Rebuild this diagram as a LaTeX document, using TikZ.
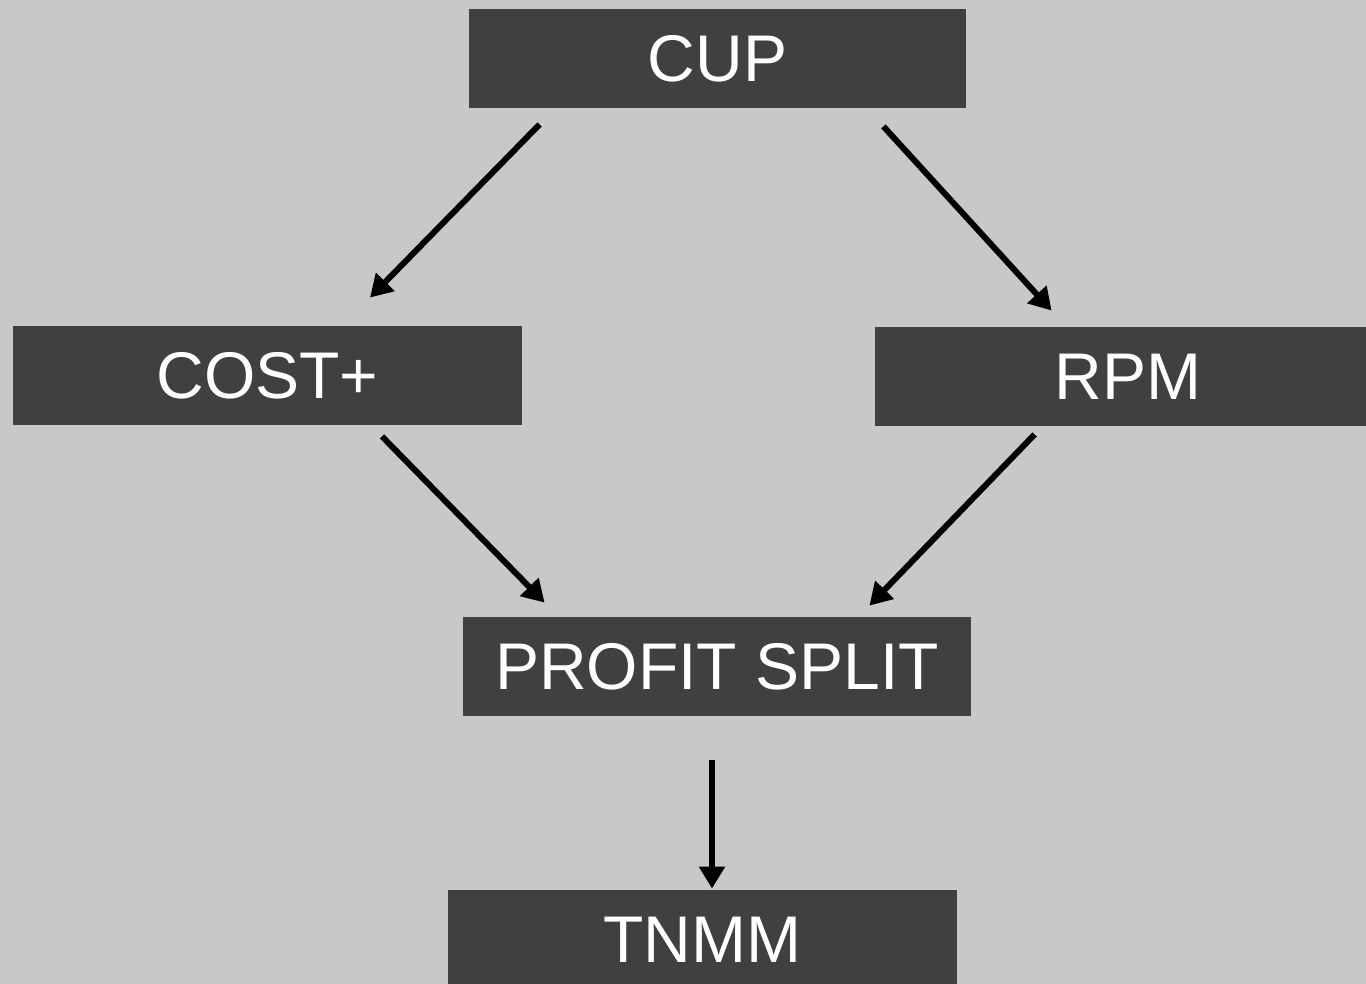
\documentclass[tikz,border=0pt]{standalone}
\usepackage{fontspec}
\setmainfont{Liberation Sans}
\usetikzlibrary{calc,arrows.meta}
\definecolor{bg}{HTML}{C8C8C8}
\definecolor{boxc}{HTML}{404040}
\begin{document}
\begin{tikzpicture}[x=0.5pt,y=-0.5pt,
  box/.style={fill=boxc,draw=none,text=white,minimum height=49.5pt,inner sep=0pt,
    font=\fontsize{33}{38}\selectfont},
  arr/.style={line width=3pt,-{Triangle[length=11pt,width=12.5pt]}}]
\useasboundingbox (0,0) rectangle (1366,984);
\clip (0,0) rectangle (1366,984);
\fill[bg] (0,0) rectangle (1366,984);
\node[box,minimum width=248.5pt] (cup) at (717.5,58.5) {CUP};
\node[box,minimum width=254.5pt] (cost) at (267.5,375.5) {COST+};
\node[box,minimum width=253pt] (rpm) at (1128,376.5) {RPM};
\node[box,minimum width=254pt] (ps) at (717,666.5) {PROFIT SPLIT};
\node[box,minimum width=254.5pt] (tnmm) at (702.5,939.5) {TNMM};
\draw[arr] ($(cup.south west)+(71,16)$) -- ($(cost.north)+(102.5,-28)$);
\draw[arr] ($(cup.south east)+(-83,18)$) -- ($(rpm.north west)+(177,-16)$);
\draw[arr] ($(cost.south)+(114.5,11)$) -- ($(ps.north west)+(82,-14)$);
\draw[arr] ($(rpm.south west)+(160,8)$) -- ($(ps.north east)+(-102,-11)$);
\draw[arr] ($(ps.south)+(-5,44)$) -- ($(tnmm.north)+(9.5,-1)$);
\end{tikzpicture}
\end{document}
